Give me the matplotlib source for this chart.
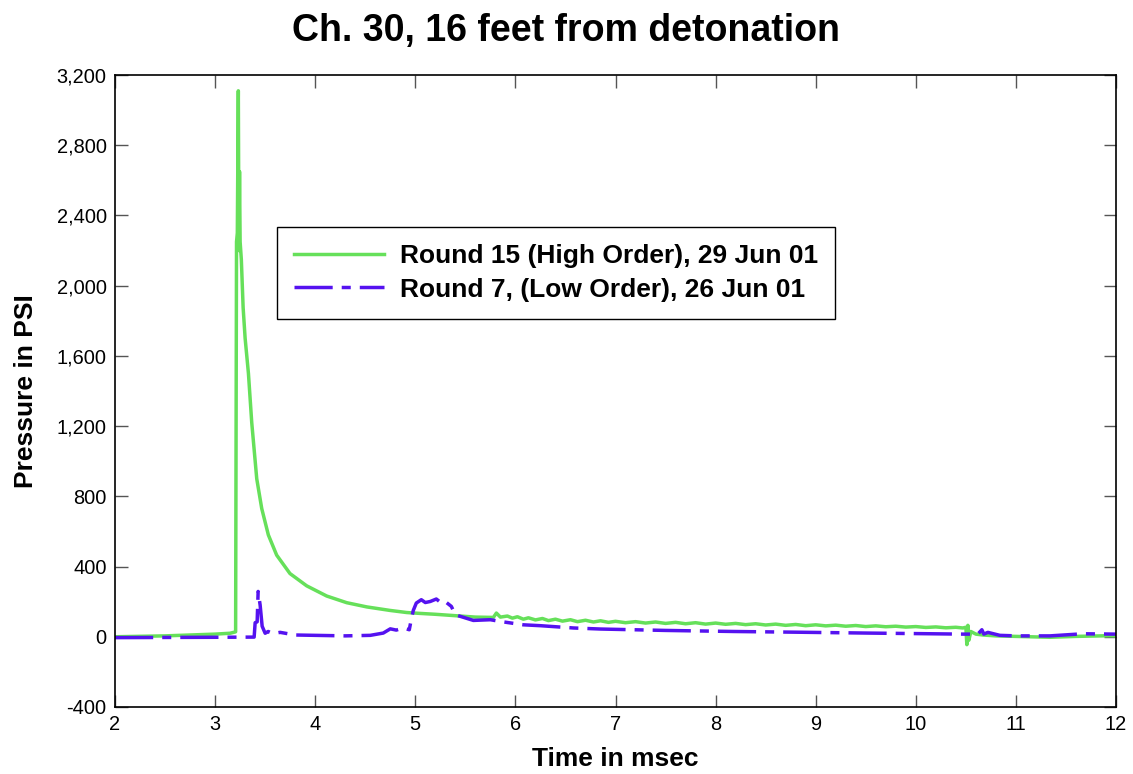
import matplotlib
matplotlib.use('Agg')
import matplotlib.pyplot as plt
from matplotlib.ticker import StrMethodFormatter

plt.rcParams['font.family'] = ['Liberation Sans', 'DejaVu Sans']
plt.rcParams['axes.unicode_minus'] = False

# Round 15 (High Order)
t_high = [2.0, 2.5, 3.0, 3.15, 3.205, 3.214, 3.222, 3.232, 3.238, 3.244, 3.25,
          3.262, 3.28, 3.30, 3.333, 3.366, 3.416, 3.466, 3.532, 3.615, 3.748,
          3.915, 4.115, 4.315, 4.515, 4.747, 4.914, 5.047, 5.2, 5.35, 5.6,
          5.78, 5.81, 5.85, 5.92, 5.97, 6.02, 6.08, 6.13, 6.2, 6.27, 6.33, 6.4,
          6.47, 6.55, 6.62, 6.7, 6.78, 6.85, 6.93, 7.0, 7.1, 7.2, 7.3, 7.4, 7.5,
          7.6, 7.7, 7.8, 7.9, 8.0, 8.1, 8.2, 8.3, 8.4, 8.5, 8.6, 8.7, 8.8, 8.9,
          9.0, 9.1, 9.2, 9.3, 9.4, 9.5, 9.6, 9.7, 9.8, 9.9, 10.0, 10.1, 10.2,
          10.3, 10.4, 10.47, 10.5, 10.51, 10.52, 10.53, 10.55, 10.6, 10.67, 10.8,
          11.0, 11.34, 11.6, 11.94, 12.0]
p_high = [0, 5, 15, 20, 28, 2250, 2300, 3110, 2200, 2650, 2250,
          2150, 1875, 1700, 1500, 1220, 900, 730, 580, 465, 360,
          290, 232, 194, 170, 150, 138, 133, 128, 122, 112,
          110, 135, 112, 118, 106, 114, 100, 108, 96, 104, 92, 100,
          89, 97, 86, 94, 84, 91, 82, 88, 80, 86, 78, 84, 76,
          82, 74, 80, 72, 78, 71, 76, 69, 74, 67, 72, 65, 70, 63,
          68, 62, 66, 60, 64, 58, 62, 57, 60, 55, 58, 53, 56,
          51, 54, 50, 54, -45, 65, -20, 30, 15, 10, 5,
          2, -3, 2, 6, 5]

# Round 7 (Low Order)
t_low = [2.0, 3.0, 3.39, 3.40, 3.42, 3.43, 3.45, 3.47, 3.50, 3.53, 3.58, 3.65,
         3.8, 4.0, 4.3, 4.55, 4.68, 4.75, 4.81, 4.88, 4.94, 4.96, 4.98, 5.01,
         5.06, 5.10, 5.15, 5.21, 5.26, 5.30, 5.36, 5.40, 5.58, 5.75, 5.85, 6.08,
         6.25, 6.58, 6.85, 7.5, 8.18, 8.8, 9.51, 10.0, 10.47, 10.62, 10.66,
         10.68, 10.72, 10.84, 11.0, 11.34, 11.67, 12.0]
p_low = [-5, -3, -2, 80, 85, 258, 180, 60, 20, 30, 18, 25,
         10, 8, 5, 8, 21, 45, 38, 50, 40, 100, 150, 192,
         211, 195, 201, 215, 192, 200, 173, 125, 93, 97, 87, 68,
         63, 50, 44, 36, 30, 26, 21, 18, 15, 15, 40,
         15, 25, 8, 5, 5, 17, 15]

label_high = 'Round 15 (High Order), 29 Jun 01'
label_low = 'Round 7, (Low Order), 26 Jun 01'

fig = plt.figure(figsize=(11.33, 7.74), dpi=100)
ax = fig.add_axes([0.1015, 0.0866, 0.8835, 0.8165])

ax.plot(t_high, p_high, color='#66e05a', lw=2.5, label=label_high)
ax.plot(t_low, p_low, color='#5512f0', lw=2.5, label=label_low,
        linestyle=(0, (11, 2.6, 2.6, 2.6)))

ax.set_xlim(2, 12)
ax.set_ylim(-400, 3200)
ax.set_xticks(range(2, 13))
ax.set_yticks(range(-400, 3201, 400))
ax.yaxis.set_major_formatter(StrMethodFormatter('{x:,.0f}'))
ax.tick_params(direction='in', length=9, width=1, color='#555555',
               top=True, right=True, labelsize=14.4, pad=6)
for s in ax.spines.values():
    s.set_linewidth(1.2)

ax.set_xlabel('Time in msec', fontsize=19, fontweight='bold', labelpad=9)
ax.set_ylabel('Pressure in PSI', fontsize=19, fontweight='bold', labelpad=13)
fig.suptitle('Ch. 30, 16 feet from detonation', fontsize=27, fontweight='bold',
             y=0.983)

leg = ax.legend(loc='upper left', bbox_to_anchor=(0.162, 0.759),
                borderaxespad=0, fancybox=False, framealpha=1,
                prop={'size': 19, 'weight': 'bold'}, handlelength=3.4,
                handletextpad=0.6, borderpad=0.65, labelspacing=0.35)
leg.get_frame().set_edgecolor('black')
leg.get_frame().set_linewidth(1)

fig.savefig('out.png', dpi=100)
